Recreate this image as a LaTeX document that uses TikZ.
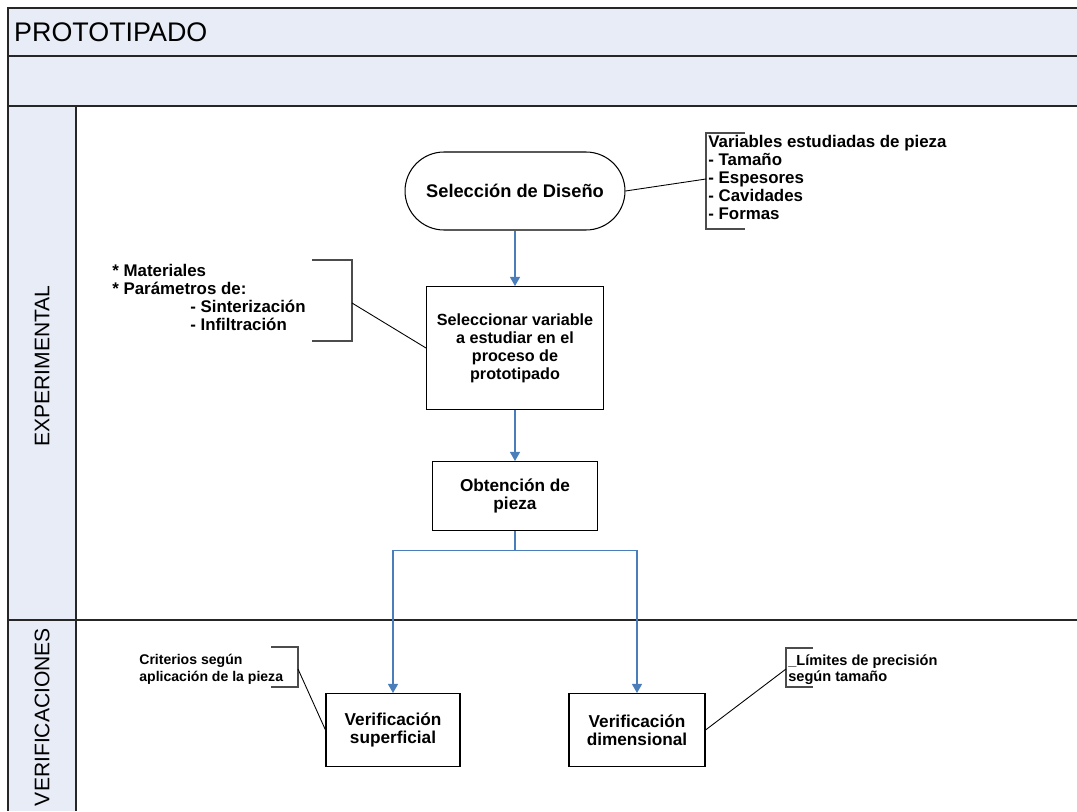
\documentclass[tikz,border=0pt]{standalone}
\usepackage{fontspec}
\setmainfont{Liberation Sans}
\usetikzlibrary{arrows.meta,positioning}

\definecolor{lanefill}{HTML}{E8ECF7}
\definecolor{flowblue}{HTML}{4A7EBB}

\begin{document}
\begin{tikzpicture}[x=0.02cm,y=-0.02cm,>={Triangle[width=5.8pt,length=5.2pt]},
  font=\bfseries\fontsize{9.8}{10.2}\selectfont,
  frame/.style={line width=1.1pt,draw=black!85},
  proc/.style={draw,line width=0.6pt,fill=white,align=center},
  term/.style={proc,rounded corners=0.78cm},
  flow/.style={->,color=flowblue,line width=0.6pt},
  note/.style={align=left,inner sep=0pt},
  bracket/.style={draw=black!70,line width=0.6pt},
  link/.style={draw,line width=0.5pt},
  lane/.style={rotate=90,font=\fontsize{12}{14}\selectfont}]
\useasboundingbox (0,0) rectangle (1077,811);

% pool and lanes
\fill[lanefill] (8,8) rectangle (1077,106);
\fill[lanefill] (8,106) rectangle (76,811);
\draw[frame] (1077,8) -- (8,8) -- (8,811);
\draw[frame] (8,56) -- (1077,56) (8,106) -- (1077,106) (76,106) -- (76,811);
\draw[frame] (8,620) -- (1077,620);
\node[anchor=west,font=\fontsize{15.3}{17}\selectfont] (title) at (8,32) {PROTOTIPADO};
\node[lane] (exp) at (42,366) {EXPERIMENTAL};
\node[lane] (ver) at (42,717) {VERIFICACIONES};

% flow
\node[term,minimum width=4.4cm,minimum height=1.56cm,font=\bfseries\fontsize{10.4}{12}\selectfont]
  (sel) at (515,191) {Selección de Diseño};
\node[proc,minimum width=3.54cm,minimum height=2.46cm,font=\bfseries\fontsize{9.2}{10.2}\selectfont]
  (var) at (515,348) {Seleccionar variable\\a estudiar en el\\proceso de\\prototipado};
\node[proc,minimum width=3.3cm,minimum height=1.38cm] (obt) at (515,496) {Obtención de\\pieza};
\node[proc,minimum width=2.68cm,minimum height=1.46cm] (sup) at (393,730) {Verificación\\superficial};
\node[proc,minimum width=2.72cm,minimum height=1.46cm] (dim) at (637,730) {Verificación\\dimensional};

\path[flow] (sel) edge (var)
            (var) edge (obt);
\draw[flow] (obt.south) -- ++(0,19) coordinate (split) -| (sup);
\draw[flow] (split) -| (dim);

% notes
\node[note,anchor=north west,font=\bfseries\fontsize{9.6}{10.2}\selectfont] (n1) at (708,135)
  {Variables estudiadas de pieza\\- Tamaño\\- Espesores\\- Cavidades\\- Formas};
\draw[bracket] (745,133) -- (706,133) -- (706,229) -- (745,229);
\coordinate (b1) at (706,179);
\draw[link] (sel.east) -- (b1);

\node[note,anchor=north west,font=\bfseries\fontsize{9.6}{10.2}\selectfont] (n2) at (112,264)
  {* Materiales\\* Parámetros de:\\\hspace*{1.56cm}- Sinterización\\\hspace*{1.56cm}- Infiltración};
\draw[bracket] (312,260) -- (352,260) -- (352,341) -- (312,341);
\coordinate (b2) at (352,303);
\draw[link] (b2) -- (var.west);

\node[note,anchor=north west,font=\bfseries\fontsize{8}{9.3}\selectfont] (n3) at (139,654)
  {Criterios según\\aplicación de la pieza};
\draw[bracket] (271,647) -- (298,647) -- (298,687) -- (271,687);
\coordinate (b3) at (298,669);
\draw[link] (b3) -- (sup.west);

\node[note,anchor=north west,font=\bfseries\fontsize{8.3}{9.3}\selectfont] (n4) at (788,654)
  {\_Límites de precisión\\según tamaño};
\draw[bracket] (813,648) -- (786,648) -- (786,687) -- (813,687);
\coordinate (b4) at (786,669);
\draw[link] (dim.east) -- (b4);
\end{tikzpicture}
\end{document}
